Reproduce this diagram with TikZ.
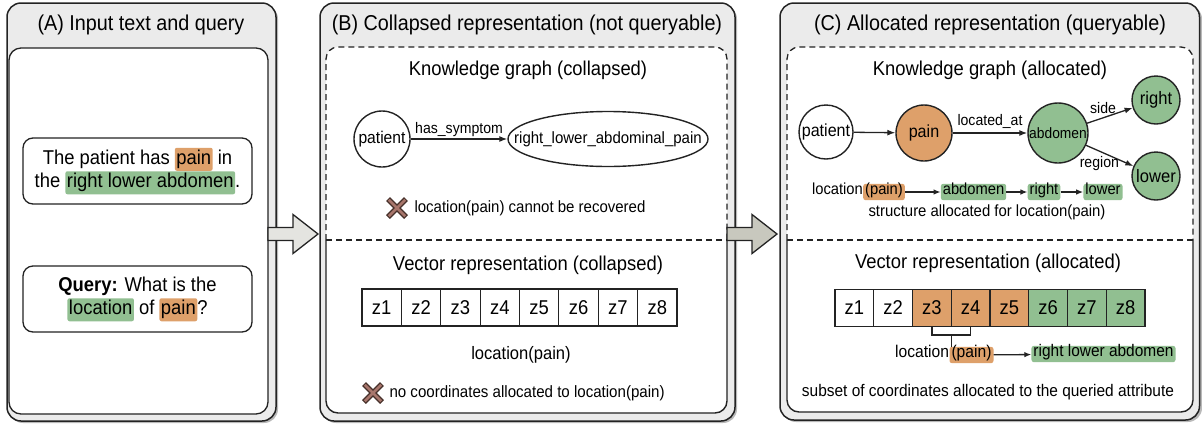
\documentclass[tikz,border=0pt]{standalone}
\usepackage{fontspec}
\setmainfont{Liberation Sans}[FakeStretch=0.92]
\usetikzlibrary{arrows.meta,calc,shapes.geometric}
\definecolor{hlor}{RGB}{222,160,106}
\definecolor{hlgr}{RGB}{145,191,145}
\definecolor{panelgray}{RGB}{235,235,235}
\definecolor{shadowgray}{RGB}{185,185,185}
\definecolor{linec}{RGB}{35,35,35}
\definecolor{arrA}{RGB}{228,228,224}
\definecolor{arrB}{RGB}{200,200,190}
\definecolor{xdark}{RGB}{70,48,42}
\definecolor{xlight}{RGB}{168,118,108}
\newcommand\fs[2]{\fontsize{#1}{#2}\selectfont}
\newcommand\hlo[1]{\tikz[baseline=(hlx.base)]\node[fill=hlor,draw=none,minimum width=0pt,minimum height=0pt,rounded corners=2pt,inner xsep=1.5pt,inner ysep=1.5pt,text height=.75em,text depth=.25em,outer sep=0pt](hlx){#1};}
\newcommand\hlg[1]{\tikz[baseline=(hlx.base)]\node[fill=hlgr,draw=none,minimum width=0pt,minimum height=0pt,rounded corners=2pt,inner xsep=1.5pt,inner ysep=1.5pt,text height=.75em,text depth=.25em,outer sep=0pt](hlx){#1};}
\tikzset{
  pics/crossmark/.style={code={
    \draw[line width=5.5pt, xdark] (-9,-9) -- (9,9) (-9,9) -- (9,-9);
    \draw[line width=2.8pt, xlight] (-8.2,-8.2) -- (8.2,8.2) (-8.2,8.2) -- (8.2,-8.2);
  }},
}
\begin{document}
\begin{tikzpicture}[x=1pt,y=-1pt,
  panel/.style={draw=linec, line width=1.5pt, fill=panelgray, rounded corners=14pt},
  pshadow/.style={fill=shadowgray, rounded corners=14pt},
  innerbox/.style={draw=linec, line width=1.3pt, fill=white, rounded corners=12pt},
  textbox/.style={draw=linec, line width=1.3pt, fill=white, rounded corners=10pt, inner sep=0pt},
  textlines/.style={align=center, font=\fs{20}{23.5}, inner sep=0pt},
  title/.style={font=\fs{21.5}{24}},
  heading/.style={font=\fs{20}{24}},
  cell/.style={draw=linec, line width=1.2pt, minimum height=37pt, inner sep=0pt, font=\fs{20}{24}},
  kgnode/.style={circle, draw=linec, line width=1.4pt, inner sep=0pt},
  edge/.style={-{Latex[length=8pt,width=6pt]}, line width=1.3pt, draw=linec},
  smalledge/.style={-{Latex[length=7pt,width=5.5pt]}, line width=1.3pt, draw=linec},
  elabel/.style={font=\fs{15.3}{18}, inner sep=1pt},
  hlbox/.style={rounded corners=2.5pt, inner xsep=2pt, inner ysep=3.5pt, text height=.72em, text depth=.22em},
  dashline/.style={dash pattern=on 6pt off 4pt, line width=1.3pt, draw=linec},
  solidline/.style={line width=1.4pt, draw=linec},
  bigarrow/.style={draw=linec, line width=1.3pt, line join=miter},
]
\useasboundingbox (0,0) rectangle (1202,424);

% ---------- Panel A ----------
\fill[pshadow] (9,5) rectangle (278,423);
\draw[panel] (7,3) rectangle (276,421);
\draw[innerbox] (9,48) rectangle (268,414);
\node[title] (tA) at (141,25) {(A) Input text and query};
\node[textbox, minimum width=229pt, minimum height=66pt] (txt) at (137.5,171) {};
\node[textlines] (txtL) at (txt.center) {The patient has \hlo{pain} in\\the \hlg{right lower abdomen}.};
\node[textbox, minimum width=229pt, minimum height=66pt] (qry) at (137.5,299) {};
\node[textlines] (qryL) at (qry.center) {\textbf{Query:} What is the\\\hlg{location} of \hlo{pain}?};

% ---------- Panel B ----------
\fill[pshadow] (322,5) rectangle (737,423);
\draw[panel] (320,3) rectangle (735,421);
\fill[white, rounded corners=12pt] (326,47) rectangle (727,413);
\draw[dashline, rounded corners=12pt] (326,240) -- (326,47) -- (727,47) -- (727,240);
\draw[solidline, rounded corners=12pt] (326,240) -- (326,413) -- (727,413) -- (727,240);
\draw[dashline] (326,240) -- (727,240);
\node[title] (tB) at (527,25) {(B) Collapsed representation (not queryable)};
\node[heading] (kgB) at (528,70) {Knowledge graph (collapsed)};
\node[kgnode, minimum size=56pt, font=\fs{17}{20}] (patB) at (382,139) {patient};
\node[ellipse, draw=linec, line width=1.4pt, minimum width=200pt, minimum height=55pt, inner sep=0pt] (rlap) at (608,139) {};
\node[font=\fs{16.3}{20}, inner sep=0pt] (rlapt) at (rlap.center) {right\_lower\_abdominal\_pain};
\draw[edge] (patB) -- (rlap) node[midway, above=1pt, elabel] (hsB) {has\_symptom};
\pic at (397,208) {crossmark};
\node[anchor=west, font=\fs{16.3}{20}] (noRec) at (411,208) {location(pain) cannot be recovered};

\node[heading] (vrB) at (528,265) {Vector representation (collapsed)};
\foreach \i in {1,...,8}
  \node[cell, minimum width=39.4pt, fill=white] (b\i) at ({362+39.375*(\i-0.5)},307.5) {z\i};
\node[font=\fs{18}{22}] (locB) at (521,355) {location(pain)};
\pic at (373,393) {crossmark};
\node[anchor=west, font=\fs{16.4}{20}] (noCoord) at (386,393) {no coordinates allocated to location(pain)};

% ---------- Panel C ----------
\fill[pshadow] (782,5) rectangle (1202,422);
\draw[panel] (780,3) rectangle (1199.5,420);
\fill[white, rounded corners=12pt] (787,47) rectangle (1193,412);
\draw[dashline, rounded corners=12pt] (787,240) -- (787,47) -- (1193,47) -- (1193,240);
\draw[solidline, rounded corners=12pt] (787,240) -- (787,412) -- (1193,412) -- (1193,240);
\draw[dashline] (787,240) -- (1193,240);
\node[title] (tC) at (990,25) {(C) Allocated representation (queryable)};
\node[heading] (kgC) at (990,70) {Knowledge graph (allocated)};
\node[kgnode, minimum size=54pt, font=\fs{17.5}{20}, fill=white] (patC) at (826,132) {patient};
\node[kgnode, minimum size=56pt, font=\fs{17.5}{20}, fill=hlor] (painC) at (924,133) {pain};
\node[kgnode, minimum size=60pt, font=\fs{15}{18}, fill=hlgr] (abdC) at (1058,133) {abdomen};
\node[kgnode, minimum size=48pt, font=\fs{18}{20}, fill=hlgr] (rightC) at (1156,100) {right};
\node[kgnode, minimum size=48pt, font=\fs{18}{20}, fill=hlgr] (lowerC) at (1156,176) {lower};
\draw[edge] (patC) -- (painC);
\draw[edge] (painC) -- (abdC) node[midway, above=3pt, elabel] (laC) {located\_at};
\draw[edge] (abdC) -- (rightC) node[pos=0.35, above=3pt, elabel] (sideC) {side};
\draw[edge] (abdC) -- (lowerC) node[pos=0.28, below=4pt, elabel] (regC) {region};

\node[hlbox, fill=hlor, font=\fs{16}{20}] (painR) at (884,192) {(pain)};
\node[anchor=base east, inner sep=0pt, font=\fs{16}{20}] (locR) at (painR.base west) {location};
\node[hlbox, fill=hlgr, font=\fs{16}{20}] (abdR) at (973.5,192) {abdomen};
\node[hlbox, fill=hlgr, font=\fs{16}{20}] (rightR) at (1044,192) {right};
\node[hlbox, fill=hlgr, font=\fs{16}{20}] (lowerR) at (1103,192) {lower};
\draw[smalledge] (painR) -- (abdR);
\draw[smalledge] (abdR) -- (rightR);
\draw[smalledge] (rightR) -- (lowerR);
\node[font=\fs{16.2}{20}] (structC) at (987,212) {structure allocated for location(pain)};

\node[heading] (vrC) at (988,263) {Vector representation (allocated)};
\foreach \i/\c in {1/white,2/white,3/hlor,4/hlor,5/hlor,6/hlgr,7/hlgr,8/hlgr}
  \node[cell, minimum width=38.8pt, fill=\c] (c\i) at ({835+38.75*(\i-0.5)},308) {z\i};
\node[hlbox, fill=hlor, font=\fs{17}{20}] (painV) at (971.5,355) {(pain)};
\node[anchor=base east, inner sep=0pt, font=\fs{17}{20}] (locV) at (painV.base west) {location};
\coordinate (brk) at ($(c3.south)!0.5!(c4.south)+(0,8)$);
\draw[solidline, line width=1.3pt] (c3.south) |- (brk) -| (c4.south);
\draw[solidline, line width=1.3pt] (brk) -- (brk |- painV.north);
\node[hlbox, fill=hlgr, font=\fs{16.8}{20}] (rlaV) at (1103.5,354) {right lower abdomen};
\draw[smalledge] (painV) -- (rlaV);
\node[font=\fs{16.8}{20}] (subC) at (988,392) {subset of coordinates allocated to the queried attribute};

% ---------- big arrows between panels ----------
\coordinate (arA) at (268,234);
\coordinate (arB) at (727,234);
\draw[bigarrow, fill=arrA] (arA) ++(0,-6.5) -- ++(25,0) -- ++(0,-13) -- ++(25,19.5) -- ++(-25,19.5) -- ++(0,-13) -- ++(-25,0) -- cycle;
\draw[bigarrow, fill=arrB] (arB) ++(0,-6.5) -- ++(25,0) -- ++(0,-13) -- ++(25,19.5) -- ++(-25,19.5) -- ++(0,-13) -- ++(-25,0) -- cycle;
\end{tikzpicture}
\end{document}
